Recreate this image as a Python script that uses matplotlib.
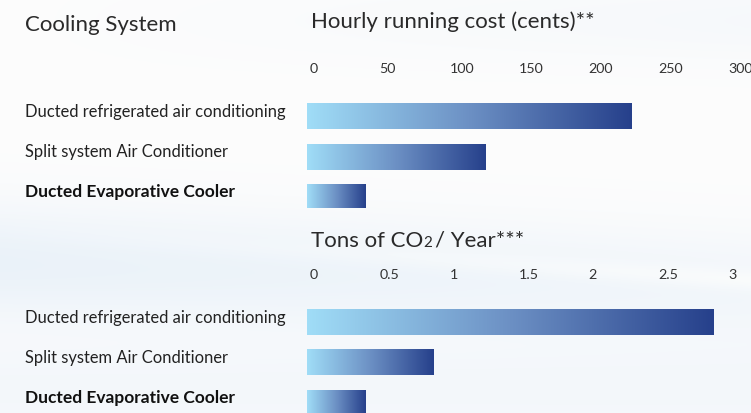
import numpy as np
import matplotlib.pyplot as plt
from matplotlib.colors import LinearSegmentedColormap
from matplotlib.transforms import blended_transform_factory, ScaledTranslation

# data
systems = ['Ducted refrigerated air conditioning', 'Split system Air Conditioner',
           'Ducted Evaporative Cooler']
cost_cents = [233, 128, 42]
co2_tons = [2.92, 0.91, 0.42]
cost_ticks = [0, 50, 100, 150, 200, 250, 300]
co2_ticks = [0, 0.5, 1, 1.5, 2, 2.5, 3]
co2_tick_labels = ['0', '0.5', '1', '1.5', '2', '2.5', '3']

plt.rcParams['font.family'] = ['Lato', 'DejaVu Sans']

W, H = 751, 414
fig = plt.figure(figsize=(W / 100, H / 100), dpi=100)

# soft light-blue background with a faint swoosh
bg = fig.add_axes([0, 0, 1, 1], zorder=-10)
yy = np.linspace(0, 1, 200)[:, None]
xx = np.linspace(0, 1, 300)[None, :]
band = np.exp(-((yy - 0.64 - 0.06 * xx) / 0.14) ** 2) * (1 - 0.4 * xx)
band += 0.5 * np.exp(-((yy - 0.95) / 0.12) ** 2)
band += 0.35 * np.exp(-((yy - 0.05) / 0.1) ** 2) * xx
swoosh = np.exp(-((yy - 0.56 - 0.12 * xx) / 0.025) ** 2) * xx
L = 0.99 + 0.0 * xx
R = L - 0.07 * band + 0.03 * swoosh
G = L - 0.04 * band + 0.02 * swoosh
B = L - 0.012 * band + 0.005 * swoosh
bg.imshow(np.clip(np.dstack([R, G, B]), 0, 1), extent=[0, 1, 0, 1], aspect='auto', origin='upper')
bg.axis('off')

cmap = LinearSegmentedColormap.from_list('bar', ['#a0ddf7', '#6c90c4', '#26408b'])
grad = np.linspace(0, 1, 256)[None, :]


def px_axes(x0, y0, x1, y1):
    return fig.add_axes([x0 / W, 1 - y1 / H, (x1 - x0) / W, (y1 - y0) / H])


def bar_panel(ax, values, xmax, ticks, tick_labels):
    for i, v in enumerate(values):
        ax.imshow(grad, cmap=cmap, aspect='auto', extent=[0, v, i + 0.3125, i - 0.3125],
                  interpolation='bilinear', zorder=2)
    ax.set_ylim(2.26, -0.8125)
    ax.set_xlim(0, xmax)
    ax.xaxis.tick_top()
    ax.set_xticks(ticks)
    ax.set_xticklabels(tick_labels, fontsize=10.3, color='#333333', ha='left')
    ax.tick_params(axis='x', length=0, pad=7)
    for lab in ax.get_xticklabels():
        lab.set_transform(lab.get_transform() + ScaledTranslation(3 / 100, 0, fig.dpi_scale_trans))
    ax.set_yticks([])
    for s in ax.spines.values():
        s.set_visible(False)
    ax.patch.set_alpha(0)
    tr = blended_transform_factory(fig.transFigure, ax.transData)
    for i, name in enumerate(systems):
        bold = i == 2
        ax.text(25 / W, i - 0.15, name, transform=tr, fontsize=12.5 if bold else 11.9,
                color='#111111' if bold else '#222222',
                fontweight='bold' if bold else 'normal',
                ha='left', va='center', clip_on=False)


ax1 = px_axes(307, 85, 725, 209)
bar_panel(ax1, cost_cents, 300, cost_ticks, [str(t) for t in cost_ticks])

ax2 = px_axes(307, 291, 725, 414)
bar_panel(ax2, co2_tons, 3, co2_ticks, co2_tick_labels)

head = dict(fontsize=16, color='#2a2a2a')
fig.text(25 / W, 1 - 25 / H, 'Cooling System', va='center', **head)
fig.text(311 / W, 1 - 22 / H, 'Hourly running cost (cents)**', va='center', **head)

# "Tons of CO2 / Year***" with a small 2
fig.canvas.draw()
r = fig.canvas.get_renderer()
t1 = fig.text(311 / W, 1 - 247 / H, 'Tons of CO', va='baseline', **head)
bb = t1.get_window_extent(r)
t2 = fig.text(bb.x1 / W + 0.5 / W, 1 - 247 / H, '2', fontsize=11, color='#2a2a2a', va='baseline')
bb2 = t2.get_window_extent(r)
fig.text(bb2.x1 / W + 2 / W, 1 - 247 / H, '/ Year***', va='baseline', **head)

fig.savefig('out.png', dpi=100)
